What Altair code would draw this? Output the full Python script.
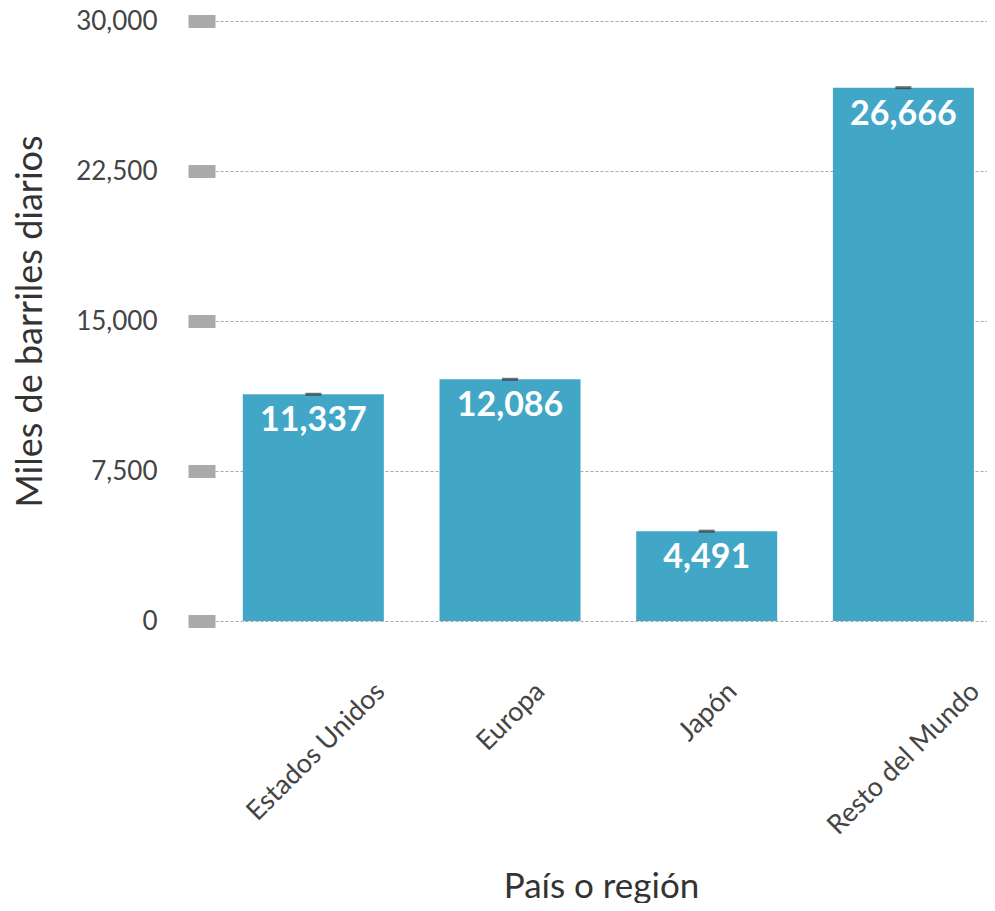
import altair as alt
import pandas as pd

regions = ["Estados Unidos", "Europa", "Japón", "Resto del Mundo"]
values = [11337, 12086, 4491, 26666]
y_ticks = [0, 7500, 15000, 22500, 30000]

df = pd.DataFrame({"region": regions, "value": values})

FONT = "Lato"

x = alt.X(
    "region:N", sort=regions, title="País o región",
    scale=alt.Scale(paddingInner=0.283, paddingOuter=0.104, align=0.68),
    axis=alt.Axis(
        labelAngle=-45, labelAlign="right", labelBaseline="middle",
        labelPadding=66, labelOffset={"expr": "length(datum.label)*4.6+3"},
        labelLimit=0, labelOverlap=False,
        ticks=False, domain=False, grid=False,
        labelFontSize=27, labelColor="#444", labelFont=FONT,
        titleFontSize=35, titleFont=FONT, titleFontWeight="normal",
        titleColor="#333", titleY=276, titleBaseline="alphabetic",
    ),
)
y = alt.Y(
    "value:Q", title="Miles de barriles diarios",
    scale=alt.Scale(domain=[0, 30000], nice=False),
    axis=alt.Axis(
        values=y_ticks, format=",.0f", tickSize=27, tickWidth=13, tickColor="#aaa",
        labelPadding=31, labelFontSize=26, labelColor="#444", labelFont=FONT,
        domain=False, grid=True, gridDash=[3, 2], gridColor="#aaa", gridWidth=1,
        titleFontSize=36, titleFont=FONT, titleFontWeight="normal", titleColor="#333",
        titleX=-174, titleBaseline="alphabetic", titleLimit=0,
    ),
)

base = alt.Chart(df).encode(x=x, y=y)
bars = base.mark_bar(color="#42A7C7")
err = base.mark_tick(color="#333", size=16, thickness=3)
labels = base.mark_text(color="white", fontSize=34, fontWeight="bold", font=FONT,
                        baseline="alphabetic", dy=37).encode(text=alt.Text("value:Q", format=",.0f"))

chart = alt.layer(bars, err, labels).properties(
    width=772, height=600,
    autosize=alt.AutoSizeParams(type="none"),
    padding={"left": 207, "top": 13, "right": 0, "bottom": 282},
).configure_view(stroke=None)

chart.save("out.html", embed_options={"renderer": "svg", "actions": False})
